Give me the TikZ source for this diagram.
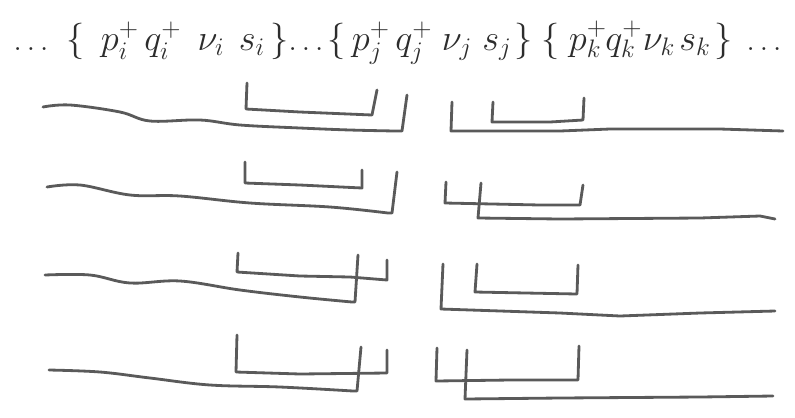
\documentclass[tikz,border=0pt]{standalone}
\usepackage{xcolor}
\definecolor{pencil}{RGB}{90, 90, 90}
\definecolor{ink}{RGB}{45, 45, 45}

\begin{document}
\begin{tikzpicture}[x=0.02cm, y=-0.02cm, line width=1.6pt, line cap=round, line join=round]
    \useasboundingbox (0,0) rectangle (795,417);
    \tikzset{tok/.style={anchor=base, inner sep=0pt, text=ink, font=\fontsize{22}{26}\selectfont},
             dots/.style={tok, font=\fontsize{16}{20}\selectfont}}

    % Sequence of tuples along the top
    \node[dots] (dotsa) at (31, 50) {$\ldots$};
    \node[tok] (opi) at (76, 50) {$\{$};
    \node[tok] (pi) at (120, 50) {$p_i^+$};
    \node[tok] (qi) at (163, 50) {$q_i^+$};
    \node[tok] (nui) at (211, 50) {$\nu_i$};
    \node[tok] (si) at (252, 50) {$s_i$};
    \node[tok] (cli) at (280, 50) {$\}$};
    \node[dots] (dotsb) at (306, 50) {$\ldots$};
    \node[tok] (opj) at (337, 50) {$\{$};
    \node[tok] (pj) at (371, 50) {$p_j^+$};
    \node[tok] (qj) at (414, 50) {$q_j^+$};
    \node[tok] (nuj) at (457, 50) {$\nu_j$};
    \node[tok] (sj) at (497, 50) {$s_j$};
    \node[tok] (clj) at (524, 50) {$\}$};
    \node[tok] (opk) at (551, 50) {$\{$};
    \node[tok] (pk) at (588, 50) {$p_k^+$};
    \node[tok] (qk) at (624, 50) {$q_k^+$};
    \node[tok] (nuk) at (659, 50) {$\nu_k$};
    \node[tok] (sk) at (695, 50) {$s_k$};
    \node[tok] (clk) at (724, 50) {$\}$};
    \node[dots] (dotsc) at (764, 50) {$\ldots$};

    % Row 1
    \draw[pencil] plot[smooth, tension=0.6] coordinates {(43,107) (70,105) (120,112) (150,121) (200,120) (240,125) (300,128) (350,130) (395,131)} -- (402,131) -- (407,95);
    \draw[pencil] (247,83) -- (246,109) -- (300,112) -- (372,115) -- (377,90);
    \draw[pencil] (452,102) -- (451,131) -- (560,131) -- (610,129) -- (720,129) -- (783,131);
    \draw[pencil] (493,102) -- (492,122) -- (550,122) -- (583,120) -- (584,98);

    % Row 2
    \draw[pencil] (245,162) -- (245,183) -- (300,185) -- (362,188) -- (362,170);
    \draw[pencil] plot[smooth, tension=0.6] coordinates {(47,187) (80,185) (130,195) (180,196) (250,203) (330,207) (388,213)} -- (392,213) -- (397,172);
    \draw[pencil] (446,182) -- (445,203) -- (540,205) -- (580,205) -- (583,185);
    \draw[pencil] (481,183) -- (478,218) -- (560,219) -- (700,218) -- (760,216) -- (775,219);

    % Row 3
    \draw[pencil] (238,253) -- (237,272) -- (300,276) -- (350,277) -- (387,280) -- (387,260);
    \draw[pencil] plot[smooth, tension=0.6] coordinates {(45,275) (90,275) (130,283) (180,281) (240,290) (300,297) (352,302)} -- (355,302) -- (358,255);
    \draw[pencil] (443,264) -- (441,309) -- (560,313) -- (620,316) -- (700,313) -- (775,311);
    \draw[pencil] (477,264) -- (475,292) -- (577,294) -- (578,265);

    % Row 4
    \draw[pencil] (237,335) -- (236,372) -- (300,374) -- (387,373) -- (387,350);
    \draw[pencil] plot[smooth, tension=0.6] coordinates {(49,370) (100,372) (150,378) (210,385) (280,387) (353,391)} -- (357,391) -- (361,347);
    \draw[pencil] (437,348) -- (436,381) -- (510,380) -- (578,380) -- (579,346);
    \draw[pencil] (467,350) -- (465,399) -- (560,398) -- (700,397) -- (773,396);
\end{tikzpicture}
\end{document}
